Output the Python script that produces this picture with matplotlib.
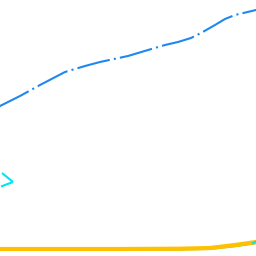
import matplotlib
matplotlib.use("Agg")
import matplotlib.pyplot as plt

# series values (arbitrary units, x: 0-256, y: 0-256)
blue_x = [-10, 0, 20, 40, 65, 85, 100, 128, 148, 165, 178, 191, 201, 215, 225, 235, 256, 270]
blue_y = [145, 150, 160, 171, 184, 190, 194, 200, 206, 211, 214, 218, 223, 231, 237, 241, 246, 248]

cyan_upper_x = [2, 13]
cyan_upper_y = [83, 74]
cyan_lower_x = [13, 1]
cyan_lower_y = [74, 69.5]
cyan_tail_x = [253, 262]
cyan_tail_y = [13, 17]

gold_x = [-10, 0, 60, 120, 180, 210, 235, 256, 270]
gold_y = [7, 7, 7, 7, 7.3, 8, 11, 14, 16]

green_x = [-10, 0, 60, 120, 180, 210, 235, 256, 270]
green_y = [6, 6, 6, 6, 6.2, 6.8, 9.5, 12.5, 14.5]

fig = plt.figure(figsize=(2.56, 2.56), dpi=100)
ax = fig.add_axes([0, 0, 1, 1])
ax.set_xlim(0, 256)
ax.set_ylim(0, 256)
ax.axis("off")

ax.plot(green_x, green_y, color="#9ACD32", lw=1.2)
ax.plot(gold_x, gold_y, color="#FFC000", lw=3)
ax.plot(cyan_upper_x, cyan_upper_y, color="#00E5F0", lw=1.5, solid_capstyle="butt")
ax.plot(cyan_lower_x, cyan_lower_y, color="#00E5F0", lw=1.5, solid_capstyle="butt")
ax.plot(cyan_tail_x, cyan_tail_y, color="#00E5F0", lw=1.5)
ax.plot(blue_x, blue_y, color="#1E88F0", lw=1.5, linestyle=(0, (16, 2, 1, 2)))

fig.savefig("out.png", dpi=100)
